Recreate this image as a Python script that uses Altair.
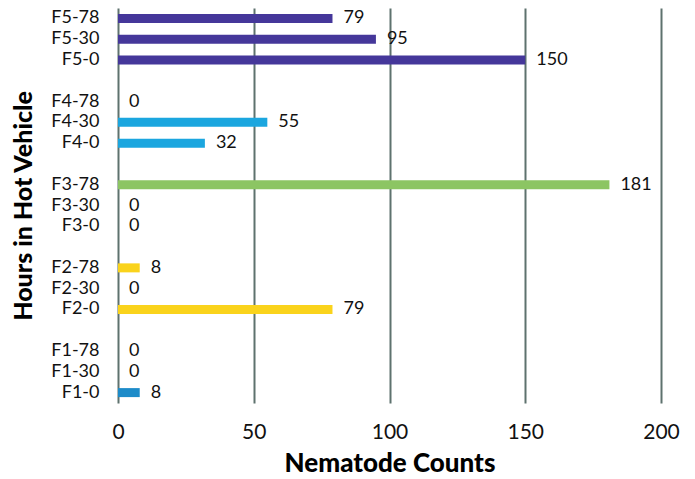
import altair as alt
import pandas as pd

# Sample groups, top to bottom, with blank spacer rows between groups
categories = ["F5-78", "F5-30", "F5-0", "", "F4-78", "F4-30", "F4-0", " ",
              "F3-78", "F3-30", "F3-0", "  ", "F2-78", "F2-30", "F2-0", "   ",
              "F1-78", "F1-30", "F1-0"]
counts = [79, 95, 150, None, 0, 55, 32, None,
          181, 0, 0, None, 8, 0, 79, None,
          0, 0, 8]
groups = ["F5", "F5", "F5", "", "F4", "F4", "F4", "",
          "F3", "F3", "F3", "", "F2", "F2", "F2", "",
          "F1", "F1", "F1"]

group_names = ["F5", "F4", "F3", "F2", "F1"]
group_colors = ["#45379a", "#1ba6df", "#8cc563", "#fad31c", "#1d8bc9"]

df = pd.DataFrame({"label": categories, "count": counts, "group": groups})
bars_df = df[df["count"].notna()]

font = "Lato"

y_enc = alt.Y("label:N", sort=categories, scale=alt.Scale(domain=categories),
              title="Hours in Hot Vehicle",
              axis=alt.Axis(labelFontSize=18, labelColor="#111", labelPadding=19,
                            labelFont=font, ticks=False, domain=False, grid=False,
                            titleFont=font, titleFontSize=25, titleFontWeight=900,
                            titleColor="#000", titlePadding=14))
x_enc = alt.X("count:Q", scale=alt.Scale(domain=[0, 200]), title="Nematode Counts",
              axis=alt.Axis(values=[0, 50, 100, 150, 200], labelFontSize=21,
                            labelColor="#111", labelFont=font, labelPadding=18,
                            labelFlush=False,
                            ticks=False, domain=False, grid=True,
                            gridColor="#5e726e", gridWidth=2, gridOpacity=1,
                            titleFont=font, titleFontSize=26, titleFontWeight=900,
                            titleColor="#000", titlePadding=8))

bars = alt.Chart(bars_df).mark_bar(size=9).encode(
    x=x_enc,
    y=y_enc,
    color=alt.Color("group:N", scale=alt.Scale(domain=group_names, range=group_colors),
                    legend=None),
)

labels = alt.Chart(bars_df).mark_text(align="left", baseline="middle", dx=11,
                                      fontSize=18, font=font, color="#111").encode(
    x="count:Q",
    y=alt.Y("label:N", sort=categories, scale=alt.Scale(domain=categories)),
    text=alt.Text("count:Q", format="d"),
)

chart = alt.layer(bars, labels).properties(
    width=543, height=395,
    autosize=alt.AutoSizeParams(type="none"),
    padding={"left": 118, "top": 8, "right": 34, "bottom": 76},
).configure_view(stroke=None).configure_scale(bandPaddingInner=0.2)

chart.save("out.html", embed_options={"renderer": "svg", "actions": False})
